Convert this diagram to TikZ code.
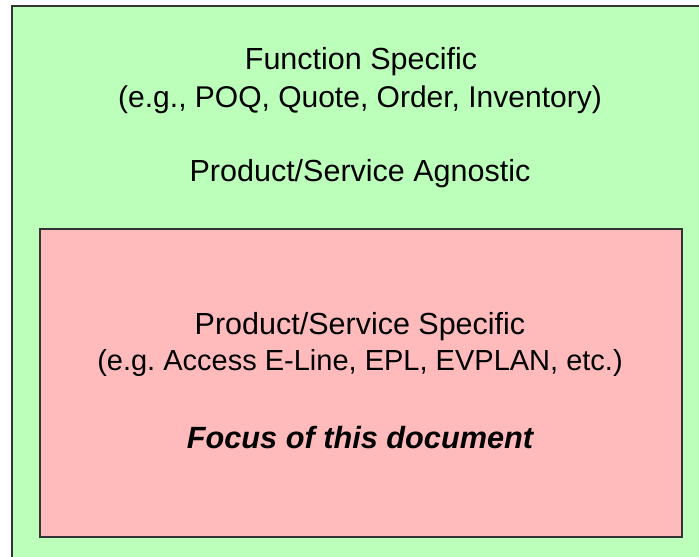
\documentclass[tikz,border=0pt]{standalone}
\usepackage{fontspec}
\setmainfont{Liberation Sans}
\frenchspacing
\definecolor{lgreen}{HTML}{BBFFBB}
\definecolor{lred}{HTML}{FFBBBB}
\definecolor{edge}{HTML}{333333}
\begin{document}
\begin{tikzpicture}[x=1pt,y=-1pt,
  box/.style={draw=edge, line width=2pt},
  lbl/.style={font=\fontsize{30.5}{36}\selectfont, text=black, inner sep=0pt, align=center}]
\useasboundingbox (0,0) rectangle (699,557);
\clip (0,0) rectangle (699,557);
\fill[white] (0,0) rectangle (699,557);
\draw[box, fill=lgreen] (12,6) rectangle (715,575);
\draw[box, fill=lred] (40,229) rectangle (682,537);
\node[lbl] (f1) at (361,62) {Function Specific};
\node[lbl, font=\fontsize{30}{36}\selectfont] (f2) at (360,100) {(e.g., POQ, Quote, Order, Inventory)};
\node[lbl] (ag) at (360,174) {Product/Service Agnostic};
\node[lbl] (p1) at (360,327) {Product/Service Specific};
\node[lbl, font=\fontsize{29}{36}\selectfont] (p2) at (360,363) {(e.g. Access E-Line, EPL, EVPLAN, etc.)};
\node[lbl, font=\fontsize{30.7}{36}\selectfont\bfseries\itshape] (fo) at (360,438) {Focus of this document};
\end{tikzpicture}
\end{document}
